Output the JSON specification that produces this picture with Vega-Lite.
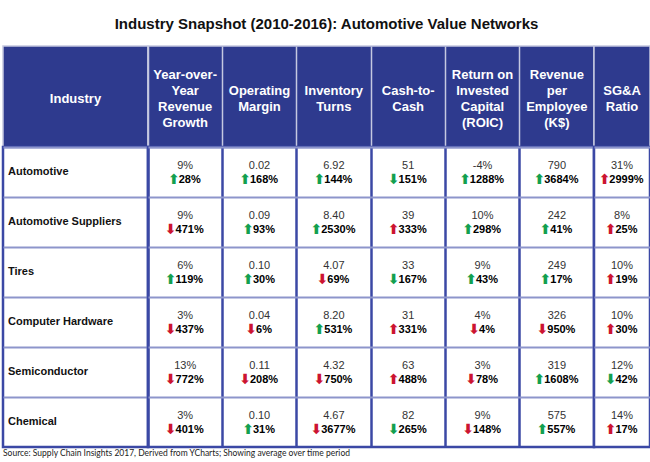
{
  "$schema": "https://vega.github.io/schema/vega-lite/v6.json",
  "background": "white",
  "padding": {"top": 17, "left": 1, "right": 1, "bottom": 0},
  "title": {"text": "Industry Snapshot (2010-2016): Automotive Value Networks", "fontSize": 15, "fontWeight": "bold", "font": "Liberation Sans", "color": "#111111", "anchor": "middle", "offset": 13},
  "datasets": {
    "headers": [
      {"key": "ind", "label": ["Industry"]},
      {"key": "yoy", "label": ["Year-over-", "Year", "Revenue", "Growth"]},
      {"key": "opm", "label": ["Operating", "Margin"]},
      {"key": "inv", "label": ["Inventory", "Turns"]},
      {"key": "c2c", "label": ["Cash-to-", "Cash"]},
      {"key": "roic", "label": ["Return on", "Invested", "Capital", "(ROIC)"]},
      {"key": "rpe", "label": ["Revenue", "per", "Employee", "(K$)"]},
      {"key": "sga", "label": ["SG&A", "Ratio"]}
    ],
    "cells": [
      {"industry": "Automotive", "metric": "yoy", "value": "9%", "dir": "up", "signal": "good", "pct": "28%"},
      {"industry": "Automotive", "metric": "opm", "value": "0.02", "dir": "up", "signal": "good", "pct": "168%"},
      {"industry": "Automotive", "metric": "inv", "value": "6.92", "dir": "up", "signal": "good", "pct": "144%"},
      {"industry": "Automotive", "metric": "c2c", "value": "51", "dir": "down", "signal": "good", "pct": "151%"},
      {"industry": "Automotive", "metric": "roic", "value": "-4%", "dir": "up", "signal": "good", "pct": "1288%"},
      {"industry": "Automotive", "metric": "rpe", "value": "790", "dir": "up", "signal": "good", "pct": "3684%"},
      {"industry": "Automotive", "metric": "sga", "value": "31%", "dir": "up", "signal": "bad", "pct": "2999%"},
      {"industry": "Automotive Suppliers", "metric": "yoy", "value": "9%", "dir": "down", "signal": "bad", "pct": "471%"},
      {"industry": "Automotive Suppliers", "metric": "opm", "value": "0.09", "dir": "up", "signal": "good", "pct": "93%"},
      {"industry": "Automotive Suppliers", "metric": "inv", "value": "8.40", "dir": "up", "signal": "good", "pct": "2530%"},
      {"industry": "Automotive Suppliers", "metric": "c2c", "value": "39", "dir": "up", "signal": "bad", "pct": "333%"},
      {"industry": "Automotive Suppliers", "metric": "roic", "value": "10%", "dir": "up", "signal": "good", "pct": "298%"},
      {"industry": "Automotive Suppliers", "metric": "rpe", "value": "242", "dir": "up", "signal": "good", "pct": "41%"},
      {"industry": "Automotive Suppliers", "metric": "sga", "value": "8%", "dir": "up", "signal": "bad", "pct": "25%"},
      {"industry": "Tires", "metric": "yoy", "value": "6%", "dir": "up", "signal": "good", "pct": "119%"},
      {"industry": "Tires", "metric": "opm", "value": "0.10", "dir": "up", "signal": "good", "pct": "30%"},
      {"industry": "Tires", "metric": "inv", "value": "4.07", "dir": "down", "signal": "bad", "pct": "69%"},
      {"industry": "Tires", "metric": "c2c", "value": "33", "dir": "down", "signal": "good", "pct": "167%"},
      {"industry": "Tires", "metric": "roic", "value": "9%", "dir": "up", "signal": "good", "pct": "43%"},
      {"industry": "Tires", "metric": "rpe", "value": "249", "dir": "up", "signal": "good", "pct": "17%"},
      {"industry": "Tires", "metric": "sga", "value": "10%", "dir": "up", "signal": "bad", "pct": "19%"},
      {"industry": "Computer Hardware", "metric": "yoy", "value": "3%", "dir": "down", "signal": "bad", "pct": "437%"},
      {"industry": "Computer Hardware", "metric": "opm", "value": "0.04", "dir": "down", "signal": "bad", "pct": "6%"},
      {"industry": "Computer Hardware", "metric": "inv", "value": "8.20", "dir": "up", "signal": "good", "pct": "531%"},
      {"industry": "Computer Hardware", "metric": "c2c", "value": "31", "dir": "up", "signal": "bad", "pct": "331%"},
      {"industry": "Computer Hardware", "metric": "roic", "value": "4%", "dir": "down", "signal": "bad", "pct": "4%"},
      {"industry": "Computer Hardware", "metric": "rpe", "value": "326", "dir": "down", "signal": "bad", "pct": "950%"},
      {"industry": "Computer Hardware", "metric": "sga", "value": "10%", "dir": "up", "signal": "bad", "pct": "30%"},
      {"industry": "Semiconductor", "metric": "yoy", "value": "13%", "dir": "down", "signal": "bad", "pct": "772%"},
      {"industry": "Semiconductor", "metric": "opm", "value": "0.11", "dir": "down", "signal": "bad", "pct": "208%"},
      {"industry": "Semiconductor", "metric": "inv", "value": "4.32", "dir": "down", "signal": "bad", "pct": "750%"},
      {"industry": "Semiconductor", "metric": "c2c", "value": "63", "dir": "up", "signal": "bad", "pct": "488%"},
      {"industry": "Semiconductor", "metric": "roic", "value": "3%", "dir": "down", "signal": "bad", "pct": "78%"},
      {"industry": "Semiconductor", "metric": "rpe", "value": "319", "dir": "up", "signal": "good", "pct": "1608%"},
      {"industry": "Semiconductor", "metric": "sga", "value": "12%", "dir": "down", "signal": "good", "pct": "42%"},
      {"industry": "Chemical", "metric": "yoy", "value": "3%", "dir": "down", "signal": "bad", "pct": "401%"},
      {"industry": "Chemical", "metric": "opm", "value": "0.10", "dir": "up", "signal": "good", "pct": "31%"},
      {"industry": "Chemical", "metric": "inv", "value": "4.67", "dir": "down", "signal": "bad", "pct": "3677%"},
      {"industry": "Chemical", "metric": "c2c", "value": "82", "dir": "down", "signal": "good", "pct": "265%"},
      {"industry": "Chemical", "metric": "roic", "value": "9%", "dir": "down", "signal": "bad", "pct": "148%"},
      {"industry": "Chemical", "metric": "rpe", "value": "575", "dir": "up", "signal": "good", "pct": "557%"},
      {"industry": "Chemical", "metric": "sga", "value": "14%", "dir": "up", "signal": "bad", "pct": "17%"}
    ]
  },
  "spacing": 0,
  "bounds": "flush",
  "align": "each",
  "columns": 3,
  "concat": [
    {
      "width": 145,
      "height": 101,
      "data": {"name": "headers"},
      "transform": [{"filter": "datum.key == 'ind'"}],
      "view": {"fill": "#2E3A8E", "stroke": "#C5C8E0", "strokeWidth": 1.5},
      "mark": {"type": "text", "color": "white", "fontWeight": "bold", "fontSize": 13, "baseline": "middle", "lineHeight": 16, "dy": {"expr": "2.5 - (length(datum.label) - 1) * 8"}},
      "encoding": {"text": {"field": "label"}}
    },
    {
      "width": 446,
      "height": 101,
      "data": {"name": "headers"},
      "transform": [{"filter": "datum.key != 'ind' && datum.key != 'sga'"}],
      "view": {"fill": "#2E3A8E", "stroke": "#C5C8E0", "strokeWidth": 1.5},
      "mark": {"type": "text", "color": "white", "fontWeight": "bold", "fontSize": 13, "baseline": "middle", "lineHeight": 16, "dy": {"expr": "2.5 - (length(datum.label) - 1) * 8"}},
      "encoding": {
        "x": {"field": "key", "type": "nominal", "scale": {"type": "band", "domain": ["yoy", "opm", "inv", "c2c", "roic", "rpe"], "paddingInner": 0, "paddingOuter": 0}, "axis": {"title": null, "labels": false, "ticks": false, "domain": false, "grid": true, "bandPosition": 0, "gridColor": "#C5C8E0", "gridWidth": 1.5}},
        "text": {"field": "label"}
      }
    },
    {
      "width": 56,
      "height": 101,
      "data": {"name": "headers"},
      "transform": [{"filter": "datum.key == 'sga'"}],
      "view": {"fill": "#2E3A8E", "stroke": "#C5C8E0", "strokeWidth": 1.5},
      "mark": {"type": "text", "color": "white", "fontWeight": "bold", "fontSize": 13, "baseline": "middle", "lineHeight": 16, "dy": {"expr": "2.5 - (length(datum.label) - 1) * 8"}},
      "encoding": {"text": {"field": "label"}}
    },
    {
      "width": 145,
      "height": 300,
      "data": {"name": "cells"},
      "transform": [{"filter": "datum.metric == 'yoy'"}],
      "view": {"fill": "white", "stroke": "#3B48A5", "strokeWidth": 2.5},
      "title": {"text": "Source: Supply Chain Insights 2017, Derived from YCharts; Showing average over time period", "orient": "bottom", "anchor": "start", "fontSize": 8.5, "fontWeight": "normal", "font": "Lato", "color": "#222222", "offset": 2},
      "mark": {"type": "text", "align": "left", "baseline": "middle", "dx": 5, "fontSize": 11, "fontWeight": "bold", "color": "#111111"},
      "encoding": {
        "x": {"datum": 0, "type": "quantitative", "scale": {"domain": [0, 1]}, "axis": null},
        "y": {"field": "industry", "type": "nominal", "scale": {"type": "band", "domain": ["Automotive", "Automotive Suppliers", "Tires", "Computer Hardware", "Semiconductor", "Chemical"], "paddingInner": 0, "paddingOuter": 0}, "axis": {"title": null, "labels": false, "ticks": false, "domain": false, "grid": true, "bandPosition": 0, "gridColor": "#8D95CB", "gridWidth": 2}},
        "text": {"field": "industry"}
      }
    },
    {
      "width": 446,
      "height": 300,
      "data": {"name": "cells"},
      "transform": [
        {"filter": "datum.metric != 'sga'"},
        {"calculate": "datum.dir == 'up' ? '⬆' : '⬇'", "as": "arrow"}
      ],
      "view": {"fill": "white", "stroke": "#3B48A5", "strokeWidth": 2.5},
      "encoding": {
        "x": {"field": "metric", "type": "nominal", "scale": {"type": "band", "domain": ["yoy", "opm", "inv", "c2c", "roic", "rpe"], "paddingInner": 0, "paddingOuter": 0}, "axis": {"title": null, "labels": false, "ticks": false, "domain": false, "grid": true, "bandPosition": 0, "gridColor": "#3B48A5", "gridWidth": 2.5}},
        "y": {"field": "industry", "type": "nominal", "scale": {"type": "band", "domain": ["Automotive", "Automotive Suppliers", "Tires", "Computer Hardware", "Semiconductor", "Chemical"], "paddingInner": 0, "paddingOuter": 0}, "axis": {"title": null, "labels": false, "ticks": false, "domain": false, "grid": true, "bandPosition": 0, "gridColor": "#8D95CB", "gridWidth": 2}}
      },
      "layer": [
        {"mark": {"type": "text", "baseline": "middle", "dy": -6, "fontSize": 11, "color": "#333333"}, "encoding": {"text": {"field": "value"}}},
        {"mark": {"type": "text", "baseline": "middle", "align": "left", "dy": 8, "dx": {"expr": "9 - (9 + (length(datum.pct) - 1) * 6.12 + 9.78) / 2"}, "fontSize": 11, "fontWeight": "bold", "color": "#000000"}, "encoding": {"text": {"field": "pct"}}},
        {"mark": {"type": "text", "baseline": "middle", "align": "right", "dy": 8, "dx": {"expr": "10 - (9 + (length(datum.pct) - 1) * 6.12 + 9.78) / 2"}, "fontSize": 14, "fontWeight": "bold", "font": "DejaVu Sans"}, "encoding": {"text": {"field": "arrow"}, "color": {"field": "signal", "type": "nominal", "scale": {"domain": ["good", "bad"], "range": ["#13A04F", "#CC1431"]}, "legend": null}}}
      ]
    },
    {
      "width": 56,
      "height": 300,
      "data": {"name": "cells"},
      "transform": [
        {"filter": "datum.metric == 'sga'"},
        {"calculate": "datum.dir == 'up' ? '⬆' : '⬇'", "as": "arrow"}
      ],
      "view": {"fill": "white", "stroke": "#3B48A5", "strokeWidth": 2.5},
      "encoding": {
        "y": {"field": "industry", "type": "nominal", "scale": {"type": "band", "domain": ["Automotive", "Automotive Suppliers", "Tires", "Computer Hardware", "Semiconductor", "Chemical"], "paddingInner": 0, "paddingOuter": 0}, "axis": {"title": null, "labels": false, "ticks": false, "domain": false, "grid": true, "bandPosition": 0, "gridColor": "#8D95CB", "gridWidth": 2}}
      },
      "layer": [
        {"mark": {"type": "text", "baseline": "middle", "dy": -6, "fontSize": 11, "color": "#333333"}, "encoding": {"text": {"field": "value"}}},
        {"mark": {"type": "text", "baseline": "middle", "align": "left", "dy": 8, "dx": {"expr": "9 - (9 + (length(datum.pct) - 1) * 6.12 + 9.78) / 2"}, "fontSize": 11, "fontWeight": "bold", "color": "#000000"}, "encoding": {"text": {"field": "pct"}}},
        {"mark": {"type": "text", "baseline": "middle", "align": "right", "dy": 8, "dx": {"expr": "10 - (9 + (length(datum.pct) - 1) * 6.12 + 9.78) / 2"}, "fontSize": 14, "fontWeight": "bold", "font": "DejaVu Sans"}, "encoding": {"text": {"field": "arrow"}, "color": {"field": "signal", "type": "nominal", "scale": {"domain": ["good", "bad"], "range": ["#13A04F", "#CC1431"]}, "legend": null}}}
      ]
    }
  ],
  "config": {
    "font": "Liberation Sans",
    "concat": {"spacing": 0}
  }
}
